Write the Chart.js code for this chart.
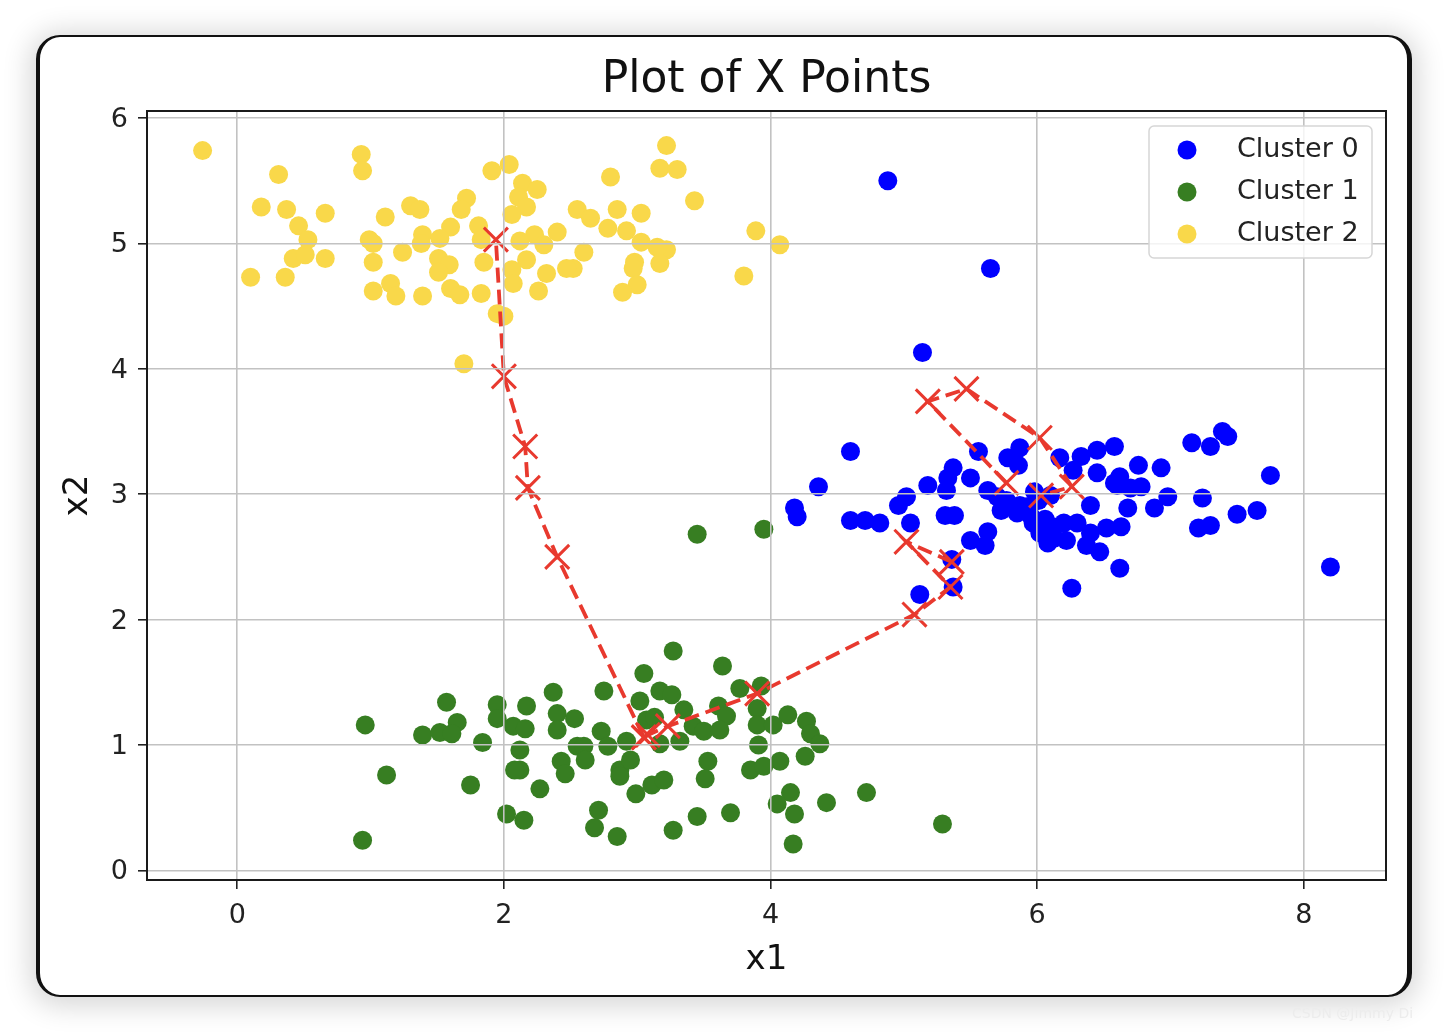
<!DOCTYPE html>
<html>
<head>
<meta charset="utf-8">
<title>Plot of X Points</title>
<script src="https://cdn.jsdelivr.net/npm/chart.js@4.4.0/dist/chart.umd.min.js"></script>
<style>
  html, body { margin: 0; padding: 0; background: #fff; }
  body { width: 1448px; height: 1034px; position: relative; overflow: hidden; }
  #card {
    position: absolute; left: 36px; top: 35px; width: 1376px; height: 962px;
    box-sizing: border-box; background: #fff;
    border-style: solid; border-color: #111; border-width: 2px 5px 2px 4px; border-radius: 24px;
    box-shadow: 0 3px 28px 6px rgba(0, 0, 0, 0.16);
  }
  #chart { position: absolute; left: 0; top: 0; width: 1448px; height: 1034px; }
  #mark { position: absolute; left: 1292px; top: 1005px; font: 14px "DejaVu Sans", sans-serif; color: #ececec; }
</style>
</head>
<body>
<div id="card"></div>
<canvas id="chart" width="1448" height="1034"></canvas>
<div id="mark">CSDN @Jimmy Di</div>
<script>
// data: [x1, x2]
const cluster0 = [[4.88,5.50],[5.65,4.80],[5.14,4.13],[4.60,3.34],[4.36,3.06],[4.18,2.89],[4.20,2.82],[4.60,2.79],[4.71,2.79],[4.82,2.77],
  [4.96,2.91],[5.02,2.98],[5.05,2.77],[5.18,3.07],[5.32,3.03],[5.33,3.13],[5.37,3.21],[5.50,3.13],[5.56,3.34],[5.31,2.83],
  [5.38,2.83],[5.50,2.63],[5.61,2.59],[5.63,2.70],[5.63,3.03],[5.70,2.98],[5.77,2.95],[5.73,2.87],[5.87,2.91],[5.92,2.90],
  [5.85,2.85],[6.01,2.95],[5.87,3.37],[5.78,3.29],[5.86,3.23],[6.17,3.29],[6.33,3.30],[6.45,3.35],[6.58,3.38],[6.27,3.19],
  [6.45,3.17],[6.58,3.09],[6.40,2.91],[5.97,2.77],[6.02,2.69],[6.12,2.74],[6.20,2.77],[6.30,2.77],[6.13,2.65],[6.08,2.61],
  [6.22,2.63],[6.40,2.69],[6.52,2.73],[6.37,2.59],[6.47,2.54],[6.62,2.41],[5.36,2.48],[5.37,2.26],[5.12,2.20],[6.26,2.25],
  [7.16,3.41],[7.30,3.38],[7.39,3.50],[7.43,3.46],[7.75,3.15],[6.62,3.14],[6.76,3.23],[6.93,3.21],[6.60,3.07],[6.70,3.05],
  [6.78,3.06],[6.98,2.98],[7.24,2.97],[6.68,2.89],[6.88,2.89],[7.50,2.84],[7.65,2.87],[7.21,2.73],[7.30,2.75],[6.63,2.74],
  [8.20,2.42],[5.95,2.83],[6.06,2.80],[5.98,3.02],[6.10,2.99]];

const cluster1 = [[0.96,1.16],[1.12,0.76],[0.94,0.24],[1.57,1.34],[1.39,1.08],[1.52,1.10],[1.65,1.18],[1.61,1.09],[1.84,1.02],[1.75,0.68],
  [1.95,1.32],[1.95,1.21],[2.07,1.15],[2.16,1.13],[2.17,1.31],[2.12,0.96],[2.12,0.80],[2.08,0.80],[2.02,0.45],[2.15,0.40],
  [2.27,0.65],[2.37,1.42],[2.40,1.25],[2.40,1.12],[2.53,1.21],[2.73,1.11],[2.78,0.99],[2.75,1.43],[2.55,0.99],[2.60,0.99],
  [2.61,0.88],[2.43,0.87],[2.46,0.77],[2.87,0.80],[2.87,0.75],[2.99,0.61],[3.11,0.68],[2.71,0.48],[2.68,0.34],[2.85,0.27],
  [3.05,1.57],[3.02,1.35],[3.07,1.20],[2.92,1.03],[2.95,0.88],[3.27,1.75],[3.64,1.63],[3.17,1.43],[3.26,1.40],[3.77,1.45],
  [3.93,1.47],[3.35,1.28],[3.61,1.31],[3.67,1.23],[3.90,1.29],[3.90,1.16],[4.02,1.16],[4.13,1.24],[4.27,1.19],[4.30,1.09],
  [4.37,1.01],[3.42,1.15],[3.50,1.11],[3.62,1.12],[3.32,1.03],[3.17,1.01],[3.91,1.00],[4.26,0.91],[4.07,0.87],[3.53,0.87],
  [3.51,0.73],[3.85,0.80],[3.95,0.83],[3.20,0.72],[4.15,0.62],[4.05,0.53],[4.18,0.45],[4.42,0.54],[4.72,0.62],[5.29,0.37],
  [3.45,0.43],[3.70,0.46],[3.27,0.32],[4.17,0.21],[3.45,2.68],[3.95,2.72],[3.13,1.22]];

const cluster2 = [[-0.26,5.74],[0.31,5.55],[0.93,5.71],[0.94,5.58],[1.91,5.58],[0.18,5.29],[0.37,5.27],[0.66,5.24],[1.72,5.36],[1.68,5.27],
  [1.30,5.30],[1.37,5.27],[1.11,5.21],[0.46,5.14],[0.53,5.03],[1.60,5.13],[1.81,5.14],[1.39,5.07],[1.38,5.00],[1.52,5.04],
  [0.99,5.03],[1.02,5.00],[1.83,5.03],[0.42,4.88],[0.51,4.91],[0.66,4.88],[1.02,4.85],[1.24,4.93],[1.51,4.88],[1.59,4.83],
  [1.51,4.77],[1.85,4.85],[0.10,4.73],[0.36,4.73],[1.02,4.62],[1.15,4.68],[1.19,4.58],[1.39,4.58],[1.60,4.64],[1.67,4.59],
  [1.83,4.60],[1.95,4.44],[1.70,4.04],[3.22,5.78],[3.17,5.60],[3.30,5.59],[2.80,5.53],[2.04,5.63],[2.14,5.48],[2.25,5.43],
  [2.11,5.37],[3.43,5.34],[2.17,5.29],[2.55,5.27],[2.65,5.20],[2.85,5.27],[3.03,5.24],[2.06,5.23],[2.78,5.12],[2.92,5.10],
  [2.40,5.09],[2.23,5.07],[2.12,5.02],[3.89,5.10],[4.07,4.99],[3.03,5.01],[3.22,4.95],[3.15,4.97],[2.30,4.99],[2.60,4.93],
  [2.17,4.87],[2.06,4.79],[2.98,4.85],[3.17,4.84],[2.52,4.80],[2.47,4.80],[2.97,4.80],[2.32,4.76],[2.07,4.68],[3.00,4.67],
  [3.80,4.74],[2.26,4.62],[2.89,4.61],[2.00,4.42]];

// centroid positions per iteration
const path0 = [[5.77,3.09],[5.18,3.74],[5.47,3.84],[6.02,3.45],[6.26,3.06],[6.03,2.99]];
const path1 = [[5.36,2.46],[5.02,2.62],[5.35,2.26],[5.08,2.04],[3.90,1.41],[3.23,1.15],[3.08,1.08],[3.05,1.06]];
const path2 = [[3.05,1.06],[2.40,2.50],[2.18,3.05],[2.16,3.38],[2.00,3.94],[1.94,5.03]];

const clusterLabels = ['Cluster 0', 'Cluster 1', 'Cluster 2'];
const xTicks = [0, 2, 4, 6, 8];
const yTicks = [0, 1, 2, 3, 4, 5, 6];
const titleText = 'Plot of X Points';

const clusterColors = ['#0000ff', '#377e22', '#f9d84a'];
const red = '#e8392e';
const FONT = '"DejaVu Sans", sans-serif';

const toPts = arr => arr.map(p => ({ x: p[0], y: p[1] }));

const clusterSets = [cluster0, cluster1, cluster2].map((c, i) => ({
    label: clusterLabels[i],
    data: toPts(c),
    backgroundColor: clusterColors[i],
    borderWidth: 0,
    pointRadius: 9.5,
    order: 3 - i
}));

const pathSets = [path0, path1, path2].map(p => ({
    data: toPts(p),
    showLine: true,
    borderColor: red,
    borderWidth: 3.8,
    borderDash: [15, 7],
    pointStyle: 'crossRot',
    pointRadius: 17,
    pointBorderColor: red,
    pointBorderWidth: 3,
    pointBackgroundColor: red,
    order: 0
}));

// spines, title and the boxed legend inside the axes
const decorations = {
    id: 'decorations',
    afterDraw(chart) {
        const { ctx, chartArea: a } = chart;
        ctx.save();
        ctx.strokeStyle = '#1a1a1a';
        ctx.lineWidth = 2;
        ctx.strokeRect(a.left, a.top, a.right - a.left, a.bottom - a.top);

        ctx.fillStyle = '#111';
        ctx.font = '44px ' + FONT;
        ctx.textAlign = 'center';
        ctx.textBaseline = 'middle';
        ctx.fillText(titleText, (a.left + a.right) / 2, a.top - 30);

        const bx = a.right - 237, by = a.top + 15, bw = 223, bh = 132;
        ctx.beginPath();
        ctx.roundRect(bx, by, bw, bh, 5);
        ctx.fillStyle = 'rgba(255,255,255,0.8)';
        ctx.fill();
        ctx.strokeStyle = '#d6d6d6';
        ctx.lineWidth = 1.5;
        ctx.stroke();

        ctx.font = '27px ' + FONT;
        ctx.textAlign = 'left';
        clusterLabels.forEach((lab, i) => {
            const y = by + 22 + i * 42;
            ctx.beginPath();
            ctx.arc(bx + 38, y + 2, 9.5, 0, Math.PI * 2);
            ctx.fillStyle = clusterColors[i];
            ctx.fill();
            ctx.fillStyle = '#222';
            ctx.fillText(lab, bx + 88, y + 2);
        });
        ctx.restore();
    }
};

const gridOpts = { color: '#c2c2c2', lineWidth: 1.6, z: 1, tickColor: '#222', tickLength: 9, tickWidth: 1.6 };

new Chart(document.getElementById('chart'), {
    type: 'scatter',
    data: { datasets: clusterSets.concat(pathSets) },
    options: {
        responsive: false,
        devicePixelRatio: 1,
        animation: false,
        layout: { padding: { left: 40, right: 62, top: 111, bottom: 40 } },
        plugins: { legend: { display: false }, tooltip: { enabled: false } },
        scales: {
            x: {
                type: 'linear', min: -0.677, max: 8.617,
                afterBuildTicks: s => { s.ticks = xTicks.map(v => ({ value: v })); },
                afterFit: s => { s.height = 114; },
                grid: gridOpts,
                border: { display: false },
                ticks: { color: '#222', padding: 11, font: { family: FONT, size: 27 } },
                title: { display: true, text: 'x1', color: '#111', padding: { top: 0, bottom: 13 }, font: { family: FONT, size: 34 } }
            },
            y: {
                type: 'linear', min: -0.077, max: 6.056,
                afterBuildTicks: s => { s.ticks = yTicks.map(v => ({ value: v })); },
                afterFit: s => { s.width = 107; },
                grid: gridOpts,
                border: { display: false },
                ticks: { color: '#222', padding: 10, labelOffset: 2, font: { family: FONT, size: 27 } },
                title: { display: true, text: 'x2', color: '#111', padding: { top: 18, bottom: 0 }, font: { family: FONT, size: 34 } }
            }
        }
    },
    plugins: [decorations]
});
</script>
</body>
</html>
